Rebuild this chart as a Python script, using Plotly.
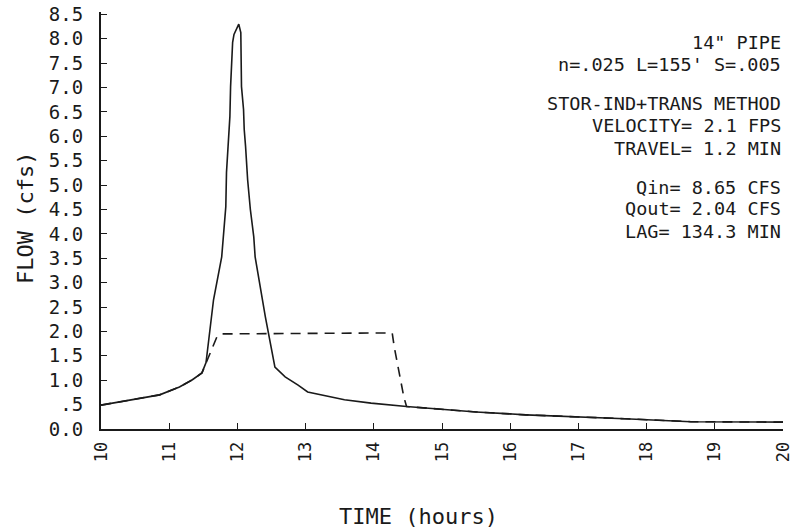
import plotly.graph_objects as go

# ---- data ----
inflow_t = [10.0, 10.5, 10.86, 11.15, 11.34, 11.48, 11.54, 11.58, 11.65, 11.77, 11.80, 11.83,
            11.84, 11.87, 11.89, 11.90, 11.92, 11.93, 11.95, 12.02, 12.05, 12.05, 12.06, 12.09,
            12.10, 12.12, 12.15, 12.19, 12.24, 12.26, 12.41, 12.55, 12.70, 12.89, 13.03, 13.57,
            13.96, 14.48, 14.98, 15.50, 16.23, 17.02, 17.68, 18.65, 19.30, 20.0]
inflow_q = [0.49, 0.61, 0.70, 0.86, 1.01, 1.15, 1.36, 1.83, 2.65, 3.53, 4.09, 4.56,
            5.26, 5.87, 6.41, 7.02, 7.58, 7.93, 8.09, 8.30, 8.13, 7.58, 7.02, 6.55,
            6.14, 5.79, 5.11, 4.50, 3.94, 3.53, 2.30, 1.27, 1.07, 0.90, 0.76, 0.60,
            0.53, 0.46, 0.40, 0.35, 0.29, 0.25, 0.21, 0.15, 0.14, 0.14]

outflow_t = [10.0, 10.5, 10.86, 11.15, 11.34, 11.48, 11.54, 11.58, 11.70, 11.77, 14.27,
             14.30, 14.38, 14.44, 14.48, 14.98, 15.50, 16.23, 17.02, 17.68, 18.65, 19.30, 20.0]
outflow_q = [0.49, 0.61, 0.70, 0.86, 1.01, 1.15, 1.36, 1.48, 1.89, 1.95, 1.97,
             1.68, 1.07, 0.66, 0.46, 0.40, 0.35, 0.29, 0.25, 0.21, 0.15, 0.14, 0.14]

x_ticks = [10, 11, 12, 13, 14, 15, 16, 17, 18, 19, 20]
x_ticktext = ["10", "11", "12", "13", "14", "15", "16", "17", "18", "19", "20"]
y_ticks = [0, 0.5, 1, 1.5, 2, 2.5, 3, 3.5, 4, 4.5, 5, 5.5, 6, 6.5, 7, 7.5, 8, 8.5]
y_ticktext = ["0.0", ".5", "1.0", "1.5", "2.0", "2.5", "3.0", "3.5", "4.0", "4.5",
              "5.0", "5.5", "6.0", "6.5", "7.0", "7.5", "8.0", "8.5"]

info_lines = ["14\" PIPE", "n=.025 L=155' S=.005",
              "STOR-IND+TRANS METHOD", "VELOCITY= 2.1 FPS", "TRAVEL= 1.2 MIN",
              "Qin= 8.65 CFS", "Qout= 2.04 CFS", "LAG= 134.3 MIN"]
info_px = [42, 64, 104, 126, 148, 187, 209, 231]   # pixel rows of the note lines

FONT = "DejaVu Sans Mono"
INK = "#1a1a1a"
W, H = 793, 531
PLOT_LEFT, PLOT_RIGHT = 101, 783
PLOT_TOP, PLOT_BOTTOM = 12, 429

fig = go.Figure()
fig.add_trace(go.Scatter(x=outflow_t, y=outflow_q, mode="lines",
                         line=dict(color=INK, width=1.6, dash="10px,7px"),
                         showlegend=False, hoverinfo="skip"))
fig.add_trace(go.Scatter(x=inflow_t, y=inflow_q, mode="lines",
                         line=dict(color=INK, width=1.6),
                         showlegend=False, hoverinfo="skip"))

fig.update_layout(
    width=W, height=H,
    margin=dict(l=PLOT_LEFT, r=W - PLOT_RIGHT, t=PLOT_TOP, b=H - PLOT_BOTTOM, autoexpand=False),
    paper_bgcolor="white", plot_bgcolor="white",
    font=dict(family=FONT, size=19, color=INK),
    xaxis=dict(range=[10, 20], tickvals=x_ticks, ticktext=x_ticktext, tickangle=-90,
               ticks="inside", ticklen=6, tickwidth=1.3, tickcolor=INK,
               showline=True, linecolor=INK, linewidth=2, showgrid=False, zeroline=False,
               tickfont=dict(family=FONT, size=17, color=INK), ticklabelstandoff=4,
               ticklabeloverflow="allow", automargin=False),
    yaxis=dict(range=[0, 8.55], tickvals=y_ticks, ticktext=y_ticktext,
               ticks="inside", ticklen=6, tickwidth=1.3, tickcolor=INK,
               showline=True, linecolor=INK, linewidth=2, showgrid=False, zeroline=False,
               tickfont=dict(family=FONT, size=19, color=INK), ticklabelstandoff=12,
               automargin=False),
)

pw = PLOT_RIGHT - PLOT_LEFT
ph = PLOT_BOTTOM - PLOT_TOP
for txt, py in zip(info_lines, info_px):
    fig.add_annotation(text=txt, x=(782 - PLOT_LEFT) / pw, y=(PLOT_BOTTOM - py) / ph,
                       xref="paper", yref="paper",
                       xanchor="right", yanchor="middle", showarrow=False, borderpad=0,
                       font=dict(family=FONT, size=18.5, color=INK))

fig.add_annotation(text="TIME (hours)", x=(418 - PLOT_LEFT) / pw, y=(PLOT_BOTTOM - 516) / ph,
                   xref="paper", yref="paper",
                   xanchor="center", yanchor="middle", showarrow=False,
                   font=dict(family=FONT, size=22, color=INK))
fig.add_annotation(text="FLOW (cfs)", x=(25 - PLOT_LEFT) / pw, y=(PLOT_BOTTOM - 218) / ph,
                   xref="paper", yref="paper",
                   xanchor="center", yanchor="middle", showarrow=False, textangle=-90,
                   font=dict(family=FONT, size=22, color=INK))

fig.write_html("out.html")
